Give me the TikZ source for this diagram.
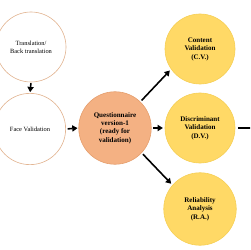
\documentclass[tikz,border=0pt]{standalone}
\usepackage{fontspec}
\setmainfont{Liberation Serif}
\usetikzlibrary{arrows.meta}
\definecolor{stepLine}{HTML}{E2B491}
\definecolor{questFill}{HTML}{F4B183}
\definecolor{questLine}{HTML}{E59E6C}
\definecolor{checkFill}{HTML}{FFD966}
\definecolor{checkLine}{HTML}{F6CF55}

\tikzset{
  stage/.style={circle, draw=stepLine, line width=0.7pt, fill=white,
    align=center, inner sep=0pt, font=\fontsize{7.3}{9}\selectfont},
  quest/.style={circle, draw=questLine, line width=0.7pt, fill=questFill,
    align=center, inner sep=0pt, font=\fontsize{8}{9.6}\selectfont\bfseries},
  check/.style={circle, draw=checkLine, line width=0.7pt, fill=checkFill,
    align=center, inner sep=0pt, font=\fontsize{8}{9.6}\selectfont\bfseries},
  flow/.style={-{Triangle[length=6pt,width=7pt]}, line width=1.8pt, black}
}

\begin{document}
\begin{tikzpicture}[x=0.04cm, y=-0.04cm]

% --- CANVAS ---
\useasboundingbox (0,0) rectangle (250,250);
\clip (0,0) rectangle (250,250);

% --- LEFT COLUMN ---
\node[stage, minimum size=2.8cm] (trans) at (31,47) {Translation/\\Back translation};
\node[stage, minimum size=2.85cm] (face) at (30,129) {Face Validation};

% --- QUESTIONNAIRE ---
\node[quest, minimum size=2.9cm] (quest) at (115,128)
  {Questionnaire\\version-1\\(ready for\\validation)};

% --- VALIDATION CHECKS ---
\node[check, minimum size=2.8cm] (cv) at (200,49) {Content\\Validation\\(C.V.)};
\node[check, minimum size=2.8cm] (dv) at (200,128) {Discriminant\\Validation\\(D.V.)};
\node[check, minimum size=2.9cm] (ra) at (200,209) {Reliability\\Analysis\\(R.A.)};
\coordinate (next) at (252,128);

% --- CONNECTORS ---
\draw[flow, shorten <=1pt, shorten >=1pt] (trans.south) -- (face.north);
\draw[flow, shorten <=2pt, shorten >=1pt] (face.east) -- (quest.west);
\draw[flow, shorten <=2pt, shorten >=2pt] (quest.46) -- (cv.215);
\draw[flow, shorten <=2pt, shorten >=2pt] (quest.east) -- (dv.west);
\draw[flow, shorten <=2pt, shorten >=2pt] (quest.-43) -- (ra.139);
\draw[line width=1.8pt, shorten <=3pt] (dv.east) -- (next);

\end{tikzpicture}
\end{document}
